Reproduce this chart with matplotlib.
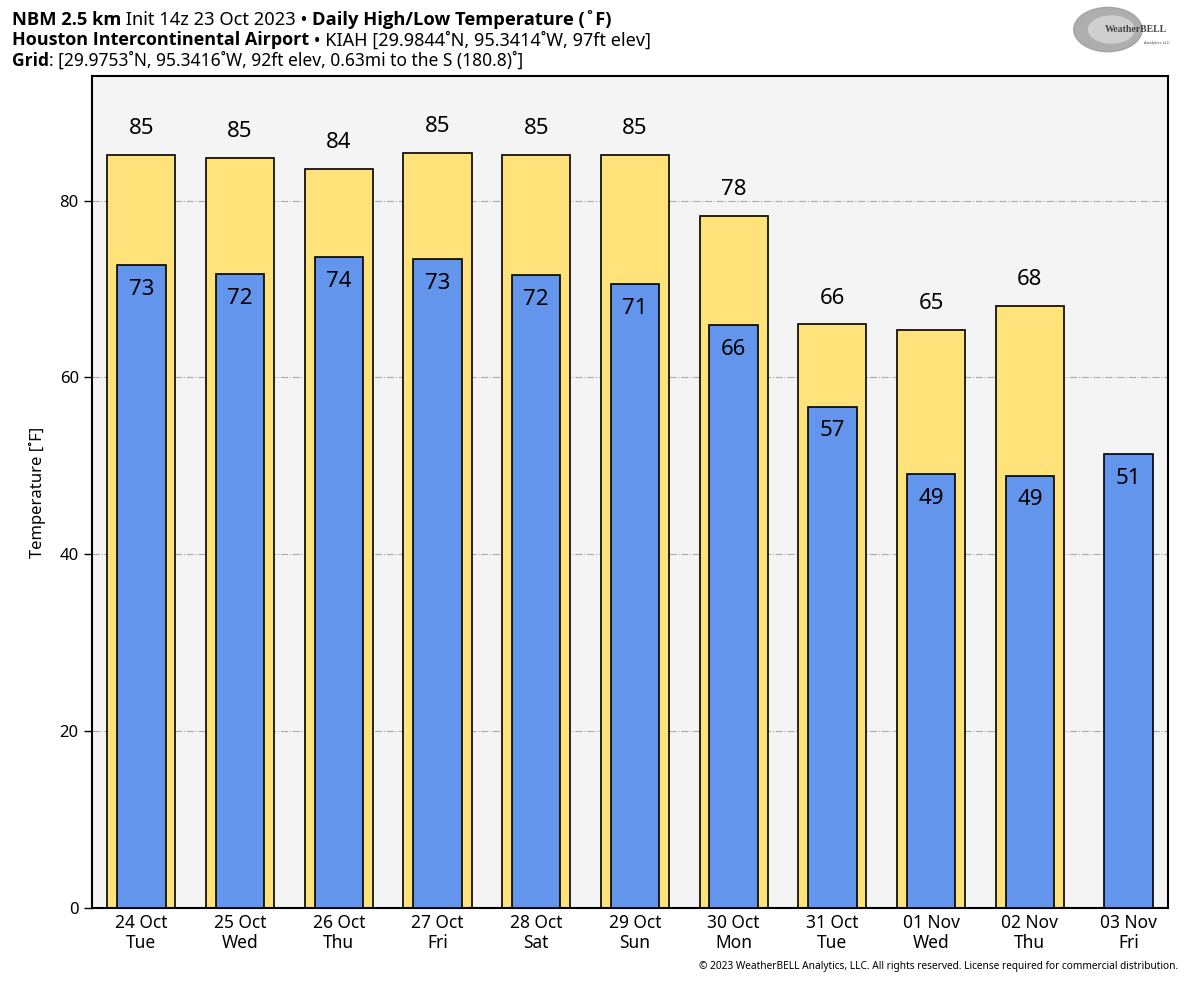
import numpy as np
import matplotlib
matplotlib.use("Agg")
import matplotlib.pyplot as plt
from matplotlib.patches import Ellipse

plt.rcParams['font.family'] = ['Noto Sans', 'DejaVu Sans']

# data
days = ["24 Oct\nTue", "25 Oct\nWed", "26 Oct\nThu", "27 Oct\nFri", "28 Oct\nSat",
        "29 Oct\nSun", "30 Oct\nMon", "31 Oct\nTue", "01 Nov\nWed", "02 Nov\nThu",
        "03 Nov\nFri"]
highs = [85.2, 84.8, 83.6, 85.4, 85.2, 85.2, 78.3, 66.0, 65.4, 68.1]
lows = [72.7, 71.7, 73.6, 73.4, 71.6, 70.6, 65.9, 56.7, 49.1, 48.9, 51.3]
yticks = [0, 20, 40, 60, 80]

hi_col = "#ffe27a"
lo_col = "#6495ed"

fig = plt.figure(figsize=(12, 9.85), dpi=100)
ax = fig.add_axes([0.0767, 0.0782, 0.8966, 0.8447])
ax.set_facecolor("#f4f4f4")

x = np.arange(len(days))
xh = x[:len(highs)]
ax.bar(xh, highs, width=0.69, color=hi_col, edgecolor="black", linewidth=1.2, zorder=2)
ax.bar(x, lows, width=0.49, color=lo_col, edgecolor="black", linewidth=1.2, zorder=3)

for xi, v in zip(xh, highs):
    ax.annotate(str(int(round(v))), (xi, v), xytext=(0, 19), textcoords="offset points",
                ha="center", va="center", fontsize=16, zorder=4)
for xi, v in zip(x, lows):
    ax.annotate(str(int(round(v))), (xi, v), xytext=(0, -17.5), textcoords="offset points",
                ha="center", va="center", fontsize=16, zorder=4)

ax.set_xlim(-0.5, 10.4)
ax.set_ylim(0, 94.1)
ax.set_yticks(yticks)
ax.set_xticks(x)
ax.set_xticklabels(days, fontsize=12.5, linespacing=1.2)
ax.tick_params(axis="y", labelsize=12, length=6, width=1)
ax.tick_params(axis="x", length=0, pad=4)
ax.yaxis.grid(True, color="#aaaaaa", linestyle="-.", linewidth=0.8, zorder=1)
ax.set_axisbelow(True)
for s in ax.spines.values():
    s.set_linewidth(1.5)
ax.set_ylabel("Temperature [˚F]", fontsize=12, labelpad=10)

# title lines with mixed weights
def rich_line(y, parts, size):
    r = fig.canvas.get_renderer()
    xpos = 0.01
    for txt, w in parts:
        fam = ["Open Sans", "DejaVu Sans"] if w == "bold" else ["Noto Sans", "DejaVu Sans"]
        t = fig.text(xpos, y, txt, fontsize=size, fontweight=w, family=fam,
                     ha="left", va="baseline")
        bb = t.get_window_extent(renderer=r)
        xpos += bb.width / fig.bbox.width

rich_line(0.975, [("NBM 2.5 km", "bold"), (" Init 14z 23 Oct 2023 • ", "normal"),
                  ("Daily High/Low Temperature (˚F)", "bold")], 13.2)
rich_line(0.954, [("Houston Intercontinental Airport", "bold"),
                  (" • KIAH [29.9844˚N, 95.3414˚W, 97ft elev]", "normal")], 13)
rich_line(0.933, [("Grid", "bold"),
                  (": [29.9753˚N, 95.3416˚W, 92ft elev, 0.63mi to the S (180.8)˚]", "normal")], 12.5)

# logo
lax = fig.add_axes([0.89, 0.945, 0.095, 0.05])
lax.axis("off")
lax.set_xlim(0, 1)
lax.set_ylim(0, 1)
lax.add_patch(Ellipse((0.35, 0.5), 0.6, 0.9, color="#9a9a9a", alpha=0.8))
lax.add_patch(Ellipse((0.38, 0.5), 0.4, 0.55, color="#cfcfcf"))
lax.text(0.6, 0.5, "WeatherBELL", fontsize=7, family="Liberation Serif",
         fontweight="bold", color="#444444", ha="center", va="center")
lax.text(0.78, 0.22, "Analytics LLC", fontsize=3, color="#444444", ha="center", va="center")

fig.text(0.982, 0.013, "© 2023 WeatherBELL Analytics, LLC. All rights reserved. "
         "License required for commercial distribution.", fontsize=7.3, ha="right", va="bottom")

fig.savefig("out.png", dpi=100)
